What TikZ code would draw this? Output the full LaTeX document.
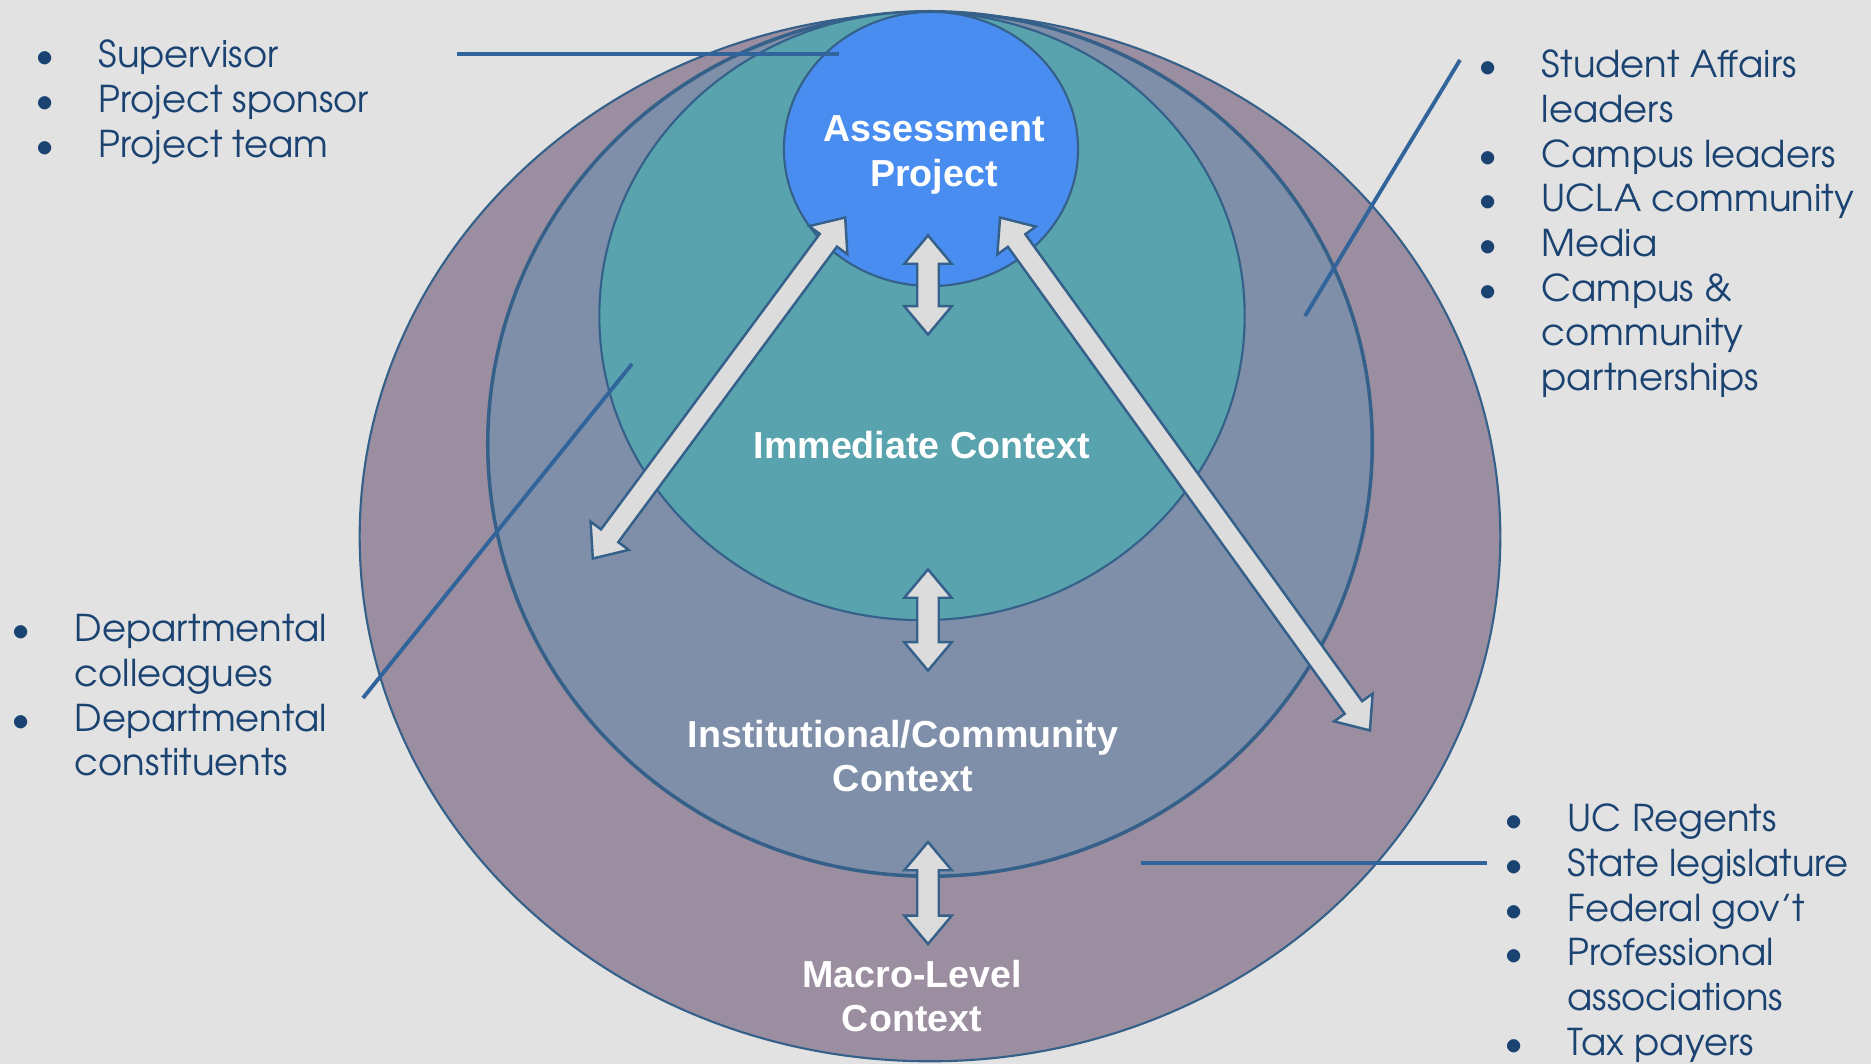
\documentclass[tikz,border=0pt]{standalone}
\usepackage{fontspec}
\setmainfont{Liberation Sans}
\newfontfamily\gothic{TeX Gyre Adventor}
\usetikzlibrary{shapes.geometric,shapes.arrows}

\definecolor{bgcol}{HTML}{E2E2E2}
\definecolor{macrocol}{HTML}{9B8EA0}
\definecolor{instcol}{HTML}{7F8FAA}
\definecolor{immedcol}{HTML}{59A3AE}
\definecolor{projcol}{HTML}{4A8DF0}
\definecolor{rimcol}{HTML}{34608A}
\definecolor{arrowfill}{HTML}{DCDCDC}
\definecolor{linecol}{HTML}{30649A}
\definecolor{navy}{HTML}{1B4372}

\tikzset{
  ring/.style={ellipse,draw=rimcol,line width=0.6pt,inner sep=0pt,outer sep=0pt},
  flow/.style={double arrow,draw=rimcol,fill=arrowfill,line width=0.7pt,
    inner xsep=0pt,inner ysep=0.95mm,double arrow head extend=1.3mm,double arrow tip angle=80},
  lbl/.style={text=white,font=\fontsize{10.7}{12.6}\selectfont\bfseries,align=center},
  who/.style={text=navy,font=\gothic\fontsize{10.5}{12.7}\selectfont,anchor=base west,inner sep=0pt},
  callout/.style={draw=linecol,line width=1.1pt}
}
\newcommand{\bul}{\makebox[0pt]{\textbullet}\hspace{5.4mm}}
\newcommand{\cont}{\hspace{5.4mm}}

\begin{document}
\begin{tikzpicture}[x=0.01cm,y=-0.01cm]
  \fill[bgcol] (0,0) rectangle (1871,1064);
  \useasboundingbox (0,0) rectangle (1871,1064);

  % nested contexts
  \node[ring,fill=macrocol,minimum width=11.40cm,minimum height=10.48cm] (macro) at (930,537) {};
  \node[ring,fill=instcol,line width=1pt,minimum width=8.84cm,minimum height=8.64cm] (inst) at (930,444) {};
  \node[ring,fill=immedcol,minimum width=6.45cm,minimum height=6.08cm] (immed) at (922,316) {};
  \node[ring,fill=projcol,minimum width=2.94cm,minimum height=2.74cm] (proj) at (931,149) {};

  % two-way arrows
  \node[flow,minimum height=0.99cm,rotate=90] (a1) at (928,285) {};
  \node[flow,minimum height=1.01cm,rotate=90] (a2) at (928,620) {};
  \node[flow,minimum height=1.02cm,rotate=90] (a3) at (928,893) {};
  \node[flow,minimum height=4.24cm,rotate=53.5] (a4) at (719,388) {};
  \node[flow,minimum height=6.32cm,rotate=-54.2] (a5) at (1185,474) {};

  % ring labels
  \node[lbl] (projtxt) at (934,155) {Assessment\\Project};
  \node[lbl] (immedtxt) at (922,445) {Immediate Context};
  \node[lbl] (insttxt) at (903,756) {Institutional/Community\\Context};
  \node[lbl] (macrotxt) at (912,996) {Macro-Level\\Context};

  % stakeholder lists
  \node[who] (inner) at (44,68) {\begin{tabular}[t]{@{}l@{}}
      \bul Supervisor\\ \bul Project sponsor\\ \bul Project team\end{tabular}};
  \node[who] (campus) at (1487,78) {\begin{tabular}[t]{@{}l@{}}
      \bul Student Affairs\\ \cont leaders\\ \bul Campus leaders\\ \bul UCLA community\\
      \bul Media\\ \bul Campus \&\\ \cont community\\ \cont partnerships\end{tabular}};
  \node[who] (dept) at (20,642) {\begin{tabular}[t]{@{}l@{}}
      \bul Departmental\\ \cont colleagues\\ \bul Departmental\\ \cont constituents\end{tabular}};
  \node[who] (public) at (1513,832) {\begin{tabular}[t]{@{}l@{}}
      \bul UC Regents\\ \bul State legislature\\ \bul Federal gov’t\\ \bul Professional\\
      \cont associations\\ \bul Tax payers\end{tabular}};

  % callout lines
  \coordinate (innerend) at (457,54);   \coordinate (innerhit) at (839,54);
  \coordinate (campusend) at (1460,60); \coordinate (campushit) at (1305,316);
  \coordinate (deptend) at (363,698);   \coordinate (depthit) at (632,364);
  \coordinate (publicend) at (1487,863);\coordinate (publichit) at (1141,863);
  \draw[callout] (innerend) -- (innerhit);
  \draw[callout] (campusend) -- (campushit);
  \draw[callout] (deptend) -- (depthit);
  \draw[callout] (publicend) -- (publichit);
\end{tikzpicture}
\end{document}
